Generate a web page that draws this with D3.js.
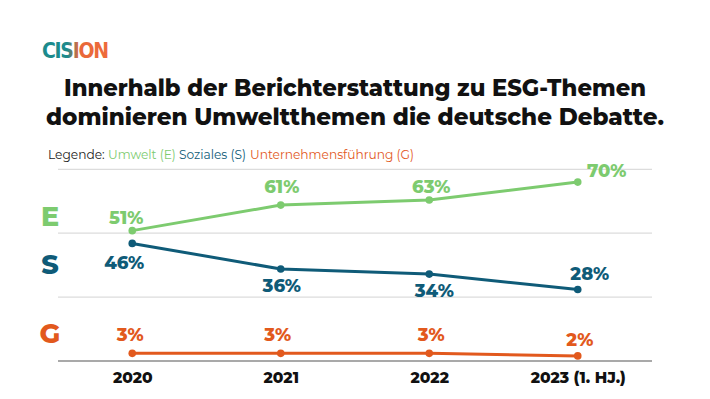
<!DOCTYPE html>
<html><head><meta charset="utf-8">
<script src="https://cdn.jsdelivr.net/npm/d3@7"></script>
<style>
body{margin:0;background:#fff;}
svg{display:block;font-family:"Montserrat","Open Sans","Noto Sans",sans-serif;}
</style></head>
<body><svg id="c" width="710" height="399"></svg>
<script>
// ---- data ----
const categories = ["2020", "2021", "2022", "2023 (1. HJ.)"];
const umwelt     = [51, 61, 63, 70];
const soziales   = [46, 36, 34, 28];
const governance = [3, 3, 3, 2];
const gridTicks  = [0, 25, 50, 75];
const titleLines = ["Innerhalb der Berichterstattung zu ESG-Themen",
                    "dominieren Umweltthemen die deutsche Debatte."];
const legendItems = ["Umwelt (E)", "Soziales (S)", "Unternehmensführung (G)"];
const seriesLetters = ["E", "S", "G"];

const colors = {E: "#7dcb6f", S: "#0f5b78", G: "#e2591d"};

// label placement (layout, not data)
const labelOffsets = {
  E: [[-6,-7],[1,-12],[2,-7],[29,-5]],
  S: [[-8,26],[1,23],[5,23],[12,-9]],
  G: [[-2,-12],[-3,-12],[2,-12],[2,-10]]
};

const svg = d3.select("#c");

// ---- logo ----
const defs = svg.append("defs");
const lg = defs.append("linearGradient").attr("id","logoGrad").attr("x1","0%").attr("x2","100%");
lg.append("stop").attr("offset","0%").attr("stop-color","#1d8a8c");
lg.append("stop").attr("offset","38%").attr("stop-color","#1d8a8c");
lg.append("stop").attr("offset","55%").attr("stop-color","#e8683a");
lg.append("stop").attr("offset","100%").attr("stop-color","#ee6a3a");
svg.append("text").attr("x",42).attr("y",57.5)
  .attr("font-family","'DejaVu Sans Condensed','Roboto',sans-serif")
  .attr("font-weight",700).attr("font-size",21)
  .attr("textLength",67).attr("lengthAdjust","spacing")
  .attr("fill","url(#logoGrad)").text("CISION");

// ---- title ----
const titleY = [96, 125];
const titleW = [582, 618];
titleLines.forEach((t,i)=>{
  svg.append("text").attr("x",355).attr("y",titleY[i]).attr("text-anchor","middle")
    .attr("font-weight",800).attr("font-size",23.5).attr("fill","#111")
    .attr("textLength",titleW[i]).attr("lengthAdjust","spacingAndGlyphs")
    .text(t);
});

// ---- legend ----
const legX = [48, 108, 179, 250];
svg.append("text").attr("x",legX[0]).attr("y",159).attr("font-size",12.2).attr("fill","#222").text("Legende:");
legendItems.forEach((t,i)=>{
  svg.append("text").attr("x",legX[i+1]).attr("y",159).attr("font-size",12.2)
    .attr("fill",colors[seriesLetters[i]]).text(t);
});

// ---- scales ----
const x = d3.scalePoint().domain(categories).range([58, 652]).padding(0.5);
const y = d3.scaleLinear().domain([0, 75]).range([361, 169.3]);

// grid
svg.append("g").selectAll("line").data(gridTicks.filter(d=>d>0)).join("line")
  .attr("x1",58).attr("x2",652).attr("y1",d=>y(d)).attr("y2",d=>y(d))
  .attr("stroke","#dcdcdc").attr("stroke-width",1.2);
svg.append("line").attr("x1",58).attr("x2",652).attr("y1",y(0)).attr("y2",y(0))
  .attr("stroke","#a9a9a9").attr("stroke-width",2);

// x axis
const xAxis = svg.append("g").attr("transform",`translate(0,${y(0)})`)
  .call(d3.axisBottom(x).tickSize(0).tickPadding(11));
xAxis.select(".domain").remove();
xAxis.selectAll("text").attr("font-family","'Montserrat','Open Sans',sans-serif")
  .attr("font-weight",800).attr("font-size",15.5).attr("fill","#111");

// series
const series = [
  {key:"E", values: umwelt},
  {key:"S", values: soziales},
  {key:"G", values: governance}
];
const line = d3.line().x((d,i)=>x(categories[i])).y(d=>y(d));

series.forEach(s=>{
  const g = svg.append("g");
  g.append("path").datum(s.values).attr("d",line)
    .attr("fill","none").attr("stroke",colors[s.key]).attr("stroke-width",3)
    .attr("stroke-linejoin","round");
  g.selectAll("circle").data(s.values).join("circle")
    .attr("cx",(d,i)=>x(categories[i])).attr("cy",d=>y(d)).attr("r",3.8)
    .attr("fill",colors[s.key]);
  g.selectAll("text").data(s.values).join("text")
    .attr("x",(d,i)=>x(categories[i]) + labelOffsets[s.key][i][0])
    .attr("y",(d,i)=>y(d) + labelOffsets[s.key][i][1])
    .attr("text-anchor","middle").attr("font-weight",800).attr("font-size",18)
    .attr("fill",colors[s.key]).text(d=>d+"%");
});

// series letters
const letterY = [226, 274, 343];
seriesLetters.forEach((l,i)=>{
  svg.append("text").attr("x",50).attr("y",letterY[i]).attr("text-anchor","middle")
    .attr("font-weight",800).attr("font-size",27).attr("fill",colors[l]).text(l);
});
</script></body></html>
